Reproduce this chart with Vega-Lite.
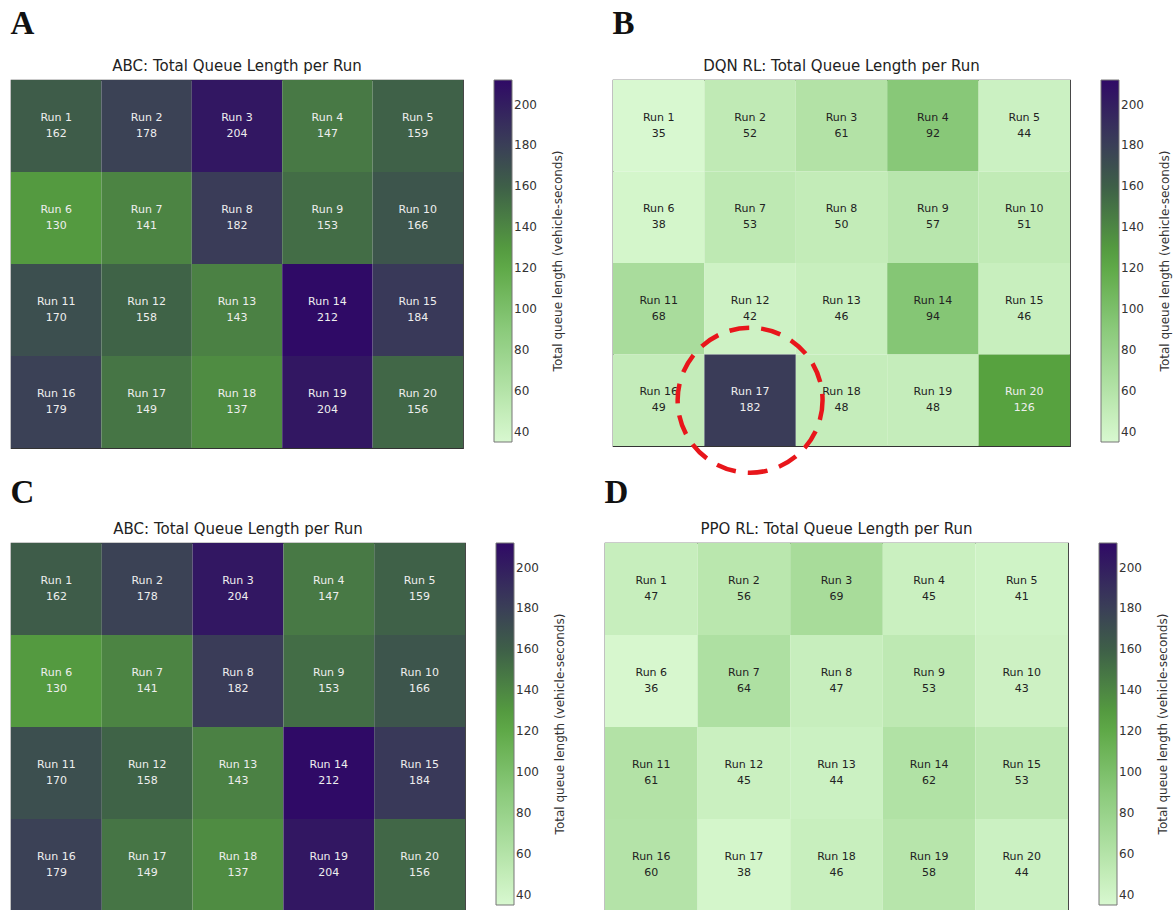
{
  "$schema": "https://vega.github.io/schema/vega-lite/v6.json",
  "padding": {"left": 10, "top": 8, "right": 0, "bottom": 0},
  "background": "white",
  "config": {
    "view": {"stroke": "#333333", "strokeWidth": 1.2},
    "title": {"font": "DejaVu Sans", "fontSize": 15, "fontWeight": "normal", "color": "#222222"},
    "legend": {
      "gradientLength": 362, "gradientThickness": 18, "gradientStrokeColor": "#777777", "gradientStrokeWidth": 1,
      "labelFont": "DejaVu Sans", "labelFontSize": 12, "labelColor": "#333333", "labelOffset": 12,
      "titleFont": "DejaVu Sans", "titleFontSize": 12, "titleFontWeight": "normal", "titleColor": "#333333",
      "titleOrient": "right", "titleAnchor": "middle", "titlePadding": 16, "titleLimit": 600,
      "offset": 31, "padding": 0
    }
  },
  "datasets": {
    "abc": [
      {"name": "Run 1", "value": 162, "row": 0, "col": 0},
      {"name": "Run 2", "value": 178, "row": 0, "col": 1},
      {"name": "Run 3", "value": 204, "row": 0, "col": 2},
      {"name": "Run 4", "value": 147, "row": 0, "col": 3},
      {"name": "Run 5", "value": 159, "row": 0, "col": 4},
      {"name": "Run 6", "value": 130, "row": 1, "col": 0},
      {"name": "Run 7", "value": 141, "row": 1, "col": 1},
      {"name": "Run 8", "value": 182, "row": 1, "col": 2},
      {"name": "Run 9", "value": 153, "row": 1, "col": 3},
      {"name": "Run 10", "value": 166, "row": 1, "col": 4},
      {"name": "Run 11", "value": 170, "row": 2, "col": 0},
      {"name": "Run 12", "value": 158, "row": 2, "col": 1},
      {"name": "Run 13", "value": 143, "row": 2, "col": 2},
      {"name": "Run 14", "value": 212, "row": 2, "col": 3},
      {"name": "Run 15", "value": 184, "row": 2, "col": 4},
      {"name": "Run 16", "value": 179, "row": 3, "col": 0},
      {"name": "Run 17", "value": 149, "row": 3, "col": 1},
      {"name": "Run 18", "value": 137, "row": 3, "col": 2},
      {"name": "Run 19", "value": 204, "row": 3, "col": 3},
      {"name": "Run 20", "value": 156, "row": 3, "col": 4}
    ],
    "dqn": [
      {"name": "Run 1", "value": 35, "row": 0, "col": 0},
      {"name": "Run 2", "value": 52, "row": 0, "col": 1},
      {"name": "Run 3", "value": 61, "row": 0, "col": 2},
      {"name": "Run 4", "value": 92, "row": 0, "col": 3},
      {"name": "Run 5", "value": 44, "row": 0, "col": 4},
      {"name": "Run 6", "value": 38, "row": 1, "col": 0},
      {"name": "Run 7", "value": 53, "row": 1, "col": 1},
      {"name": "Run 8", "value": 50, "row": 1, "col": 2},
      {"name": "Run 9", "value": 57, "row": 1, "col": 3},
      {"name": "Run 10", "value": 51, "row": 1, "col": 4},
      {"name": "Run 11", "value": 68, "row": 2, "col": 0},
      {"name": "Run 12", "value": 42, "row": 2, "col": 1},
      {"name": "Run 13", "value": 46, "row": 2, "col": 2},
      {"name": "Run 14", "value": 94, "row": 2, "col": 3},
      {"name": "Run 15", "value": 46, "row": 2, "col": 4},
      {"name": "Run 16", "value": 49, "row": 3, "col": 0},
      {"name": "Run 17", "value": 182, "row": 3, "col": 1},
      {"name": "Run 18", "value": 48, "row": 3, "col": 2},
      {"name": "Run 19", "value": 48, "row": 3, "col": 3},
      {"name": "Run 20", "value": 126, "row": 3, "col": 4}
    ],
    "ppo": [
      {"name": "Run 1", "value": 47, "row": 0, "col": 0},
      {"name": "Run 2", "value": 56, "row": 0, "col": 1},
      {"name": "Run 3", "value": 69, "row": 0, "col": 2},
      {"name": "Run 4", "value": 45, "row": 0, "col": 3},
      {"name": "Run 5", "value": 41, "row": 0, "col": 4},
      {"name": "Run 6", "value": 36, "row": 1, "col": 0},
      {"name": "Run 7", "value": 64, "row": 1, "col": 1},
      {"name": "Run 8", "value": 47, "row": 1, "col": 2},
      {"name": "Run 9", "value": 53, "row": 1, "col": 3},
      {"name": "Run 10", "value": 43, "row": 1, "col": 4},
      {"name": "Run 11", "value": 61, "row": 2, "col": 0},
      {"name": "Run 12", "value": 45, "row": 2, "col": 1},
      {"name": "Run 13", "value": 44, "row": 2, "col": 2},
      {"name": "Run 14", "value": 62, "row": 2, "col": 3},
      {"name": "Run 15", "value": 53, "row": 2, "col": 4},
      {"name": "Run 16", "value": 60, "row": 3, "col": 0},
      {"name": "Run 17", "value": 38, "row": 3, "col": 1},
      {"name": "Run 18", "value": 46, "row": 3, "col": 2},
      {"name": "Run 19", "value": 58, "row": 3, "col": 3},
      {"name": "Run 20", "value": 44, "row": 3, "col": 4}
    ],
    "highlight": [{"row": 3, "col": 1}]
  },
  "spacing": -6,
  "resolve": {"scale": {"color": "independent"}, "legend": {"color": "independent"}},
  "vconcat": [
    {
      "spacing": 46,
      "resolve": {"scale": {"color": "independent"}, "legend": {"color": "independent"}},
      "hconcat": [
        {
          "title": {"text": "A", "anchor": "start", "font": "Liberation Serif", "fontSize": 33, "fontWeight": "bold", "color": "#111111", "offset": 17},
          "resolve": {"scale": {"color": "independent"}, "legend": {"color": "independent"}},
          "vconcat": [
            {
              "title": {"text": "ABC: Total Queue Length per Run", "offset": 6},
              "width": 452, "height": 368,
              "data": {"name": "abc"},
              "layer": [
                {"mark": {"type": "rect"}, "encoding": {
                  "x": {"field": "col", "type": "ordinal", "axis": null, "scale": {"paddingInner": 0, "paddingOuter": 0}},
                  "y": {"field": "row", "type": "ordinal", "axis": null, "scale": {"paddingInner": 0, "paddingOuter": 0}},
                  "color": {"field": "value", "type": "quantitative", "title": "Total queue length (vehicle-seconds)",
                    "scale": {"domain": [35, 65, 92, 125, 160, 182, 212], "range": ["#d8f8d0", "#addfa0", "#88c878", "#58a43f", "#3e5f48", "#3a3c58", "#2f0a66"], "interpolate": "rgb"},
                    "legend": {"values": [40, 60, 80, 100, 120, 140, 160, 180, 200], "encode": {"title": {"update": {"angle": {"value": 270}, "baseline": {"value": "top"}}}}}}
                }},
                {"mark": {"type": "text", "font": "DejaVu Sans", "fontSize": 11, "dy": -8}, "encoding": {
                  "x": {"field": "col", "type": "ordinal"}, "y": {"field": "row", "type": "ordinal"},
                  "text": {"field": "name"},
                  "color": {"condition": {"test": "datum.value > 110", "value": "#eeeeee"}, "value": "#222222"}
                }},
                {"mark": {"type": "text", "font": "DejaVu Sans", "fontSize": 11, "dy": 8}, "encoding": {
                  "x": {"field": "col", "type": "ordinal"}, "y": {"field": "row", "type": "ordinal"},
                  "text": {"field": "value"},
                  "color": {"condition": {"test": "datum.value > 110", "value": "#eeeeee"}, "value": "#222222"}
                }}
              ]
            }
          ]
        },
        {
          "title": {"text": "B", "anchor": "start", "font": "Liberation Serif", "fontSize": 33, "fontWeight": "bold", "color": "#111111", "offset": 17},
          "resolve": {"scale": {"color": "independent"}, "legend": {"color": "independent"}},
          "vconcat": [
            {
              "title": {"text": "DQN RL: Total Queue Length per Run", "offset": 6},
              "width": 457, "height": 366,
              "layer": [
                {"data": {"name": "dqn"}, "mark": {"type": "rect"}, "encoding": {
                  "x": {"field": "col", "type": "ordinal", "axis": null, "scale": {"paddingInner": 0, "paddingOuter": 0}},
                  "y": {"field": "row", "type": "ordinal", "axis": null, "scale": {"paddingInner": 0, "paddingOuter": 0}},
                  "color": {"field": "value", "type": "quantitative", "title": "Total queue length (vehicle-seconds)",
                    "scale": {"domain": [35, 65, 92, 125, 160, 182, 212], "range": ["#d8f8d0", "#addfa0", "#88c878", "#58a43f", "#3e5f48", "#3a3c58", "#2f0a66"], "interpolate": "rgb"},
                    "legend": {"values": [40, 60, 80, 100, 120, 140, 160, 180, 200], "encode": {"title": {"update": {"angle": {"value": 270}, "baseline": {"value": "top"}}}}}}
                }},
                {"data": {"name": "dqn"}, "mark": {"type": "text", "font": "DejaVu Sans", "fontSize": 11, "dy": -8}, "encoding": {
                  "x": {"field": "col", "type": "ordinal"}, "y": {"field": "row", "type": "ordinal"},
                  "text": {"field": "name"},
                  "color": {"condition": {"test": "datum.value > 110", "value": "#eeeeee"}, "value": "#222222"}
                }},
                {"data": {"name": "dqn"}, "mark": {"type": "text", "font": "DejaVu Sans", "fontSize": 11, "dy": 8}, "encoding": {
                  "x": {"field": "col", "type": "ordinal"}, "y": {"field": "row", "type": "ordinal"},
                  "text": {"field": "value"},
                  "color": {"condition": {"test": "datum.value > 110", "value": "#eeeeee"}, "value": "#222222"}
                }},
                {"data": {"name": "highlight"}, "mark": {"type": "point", "shape": "circle", "filled": false, "size": 21000, "stroke": "#e8161b", "strokeWidth": 4.5, "strokeDash": [20, 12], "opacity": 1, "clip": false}, "encoding": {
                  "x": {"field": "col", "type": "ordinal"}, "y": {"field": "row", "type": "ordinal"}
                }}
              ]
            }
          ]
        }
      ]
    },
    {
      "spacing": 36,
      "resolve": {"scale": {"color": "independent"}, "legend": {"color": "independent"}},
      "hconcat": [
        {
          "title": {"text": "C", "anchor": "start", "font": "Liberation Serif", "fontSize": 33, "fontWeight": "bold", "color": "#111111", "offset": 11},
          "resolve": {"scale": {"color": "independent"}, "legend": {"color": "independent"}},
          "vconcat": [
            {
              "title": {"text": "ABC: Total Queue Length per Run", "offset": 6},
              "width": 454, "height": 368,
              "data": {"name": "abc"},
              "layer": [
                {"mark": {"type": "rect"}, "encoding": {
                  "x": {"field": "col", "type": "ordinal", "axis": null, "scale": {"paddingInner": 0, "paddingOuter": 0}},
                  "y": {"field": "row", "type": "ordinal", "axis": null, "scale": {"paddingInner": 0, "paddingOuter": 0}},
                  "color": {"field": "value", "type": "quantitative", "title": "Total queue length (vehicle-seconds)",
                    "scale": {"domain": [35, 65, 92, 125, 160, 182, 212], "range": ["#d8f8d0", "#addfa0", "#88c878", "#58a43f", "#3e5f48", "#3a3c58", "#2f0a66"], "interpolate": "rgb"},
                    "legend": {"values": [40, 60, 80, 100, 120, 140, 160, 180, 200], "encode": {"title": {"update": {"angle": {"value": 270}, "baseline": {"value": "top"}}}}}}
                }},
                {"mark": {"type": "text", "font": "DejaVu Sans", "fontSize": 11, "dy": -8}, "encoding": {
                  "x": {"field": "col", "type": "ordinal"}, "y": {"field": "row", "type": "ordinal"},
                  "text": {"field": "name"},
                  "color": {"condition": {"test": "datum.value > 110", "value": "#eeeeee"}, "value": "#222222"}
                }},
                {"mark": {"type": "text", "font": "DejaVu Sans", "fontSize": 11, "dy": 8}, "encoding": {
                  "x": {"field": "col", "type": "ordinal"}, "y": {"field": "row", "type": "ordinal"},
                  "text": {"field": "value"},
                  "color": {"condition": {"test": "datum.value > 110", "value": "#eeeeee"}, "value": "#222222"}
                }}
              ]
            }
          ]
        },
        {
          "title": {"text": "D", "anchor": "start", "font": "Liberation Serif", "fontSize": 33, "fontWeight": "bold", "color": "#111111", "offset": 11},
          "resolve": {"scale": {"color": "independent"}, "legend": {"color": "independent"}},
          "vconcat": [
            {
              "title": {"text": "PPO RL: Total Queue Length per Run", "offset": 6},
              "width": 463, "height": 368,
              "data": {"name": "ppo"},
              "layer": [
                {"mark": {"type": "rect"}, "encoding": {
                  "x": {"field": "col", "type": "ordinal", "axis": null, "scale": {"paddingInner": 0, "paddingOuter": 0}},
                  "y": {"field": "row", "type": "ordinal", "axis": null, "scale": {"paddingInner": 0, "paddingOuter": 0}},
                  "color": {"field": "value", "type": "quantitative", "title": "Total queue length (vehicle-seconds)",
                    "scale": {"domain": [35, 65, 92, 125, 160, 182, 212], "range": ["#d8f8d0", "#addfa0", "#88c878", "#58a43f", "#3e5f48", "#3a3c58", "#2f0a66"], "interpolate": "rgb"},
                    "legend": {"values": [40, 60, 80, 100, 120, 140, 160, 180, 200], "encode": {"title": {"update": {"angle": {"value": 270}, "baseline": {"value": "top"}}}}}}
                }},
                {"mark": {"type": "text", "font": "DejaVu Sans", "fontSize": 11, "dy": -8}, "encoding": {
                  "x": {"field": "col", "type": "ordinal"}, "y": {"field": "row", "type": "ordinal"},
                  "text": {"field": "name"},
                  "color": {"condition": {"test": "datum.value > 110", "value": "#eeeeee"}, "value": "#222222"}
                }},
                {"mark": {"type": "text", "font": "DejaVu Sans", "fontSize": 11, "dy": 8}, "encoding": {
                  "x": {"field": "col", "type": "ordinal"}, "y": {"field": "row", "type": "ordinal"},
                  "text": {"field": "value"},
                  "color": {"condition": {"test": "datum.value > 110", "value": "#eeeeee"}, "value": "#222222"}
                }}
              ]
            }
          ]
        }
      ]
    }
  ]
}
